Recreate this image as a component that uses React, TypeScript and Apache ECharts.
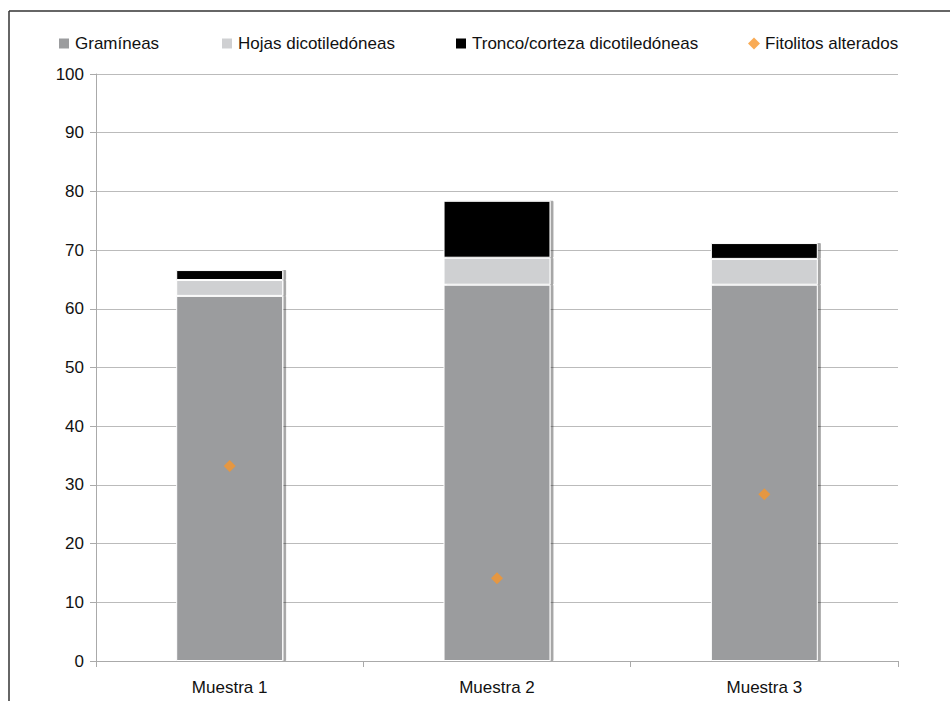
import React, { useEffect, useRef } from "react";
import * as echarts from "echarts";

const categories = ["Muestra 1", "Muestra 2", "Muestra 3"];
const gramineas = [62.2, 64.1, 64.1];
const hojas = [2.7, 4.6, 4.4];
const tronco = [1.7, 9.7, 2.7];
const fitolitos = [33.2, 14.1, 28.4];
const yTicks = { min: 0, max: 100, interval: 10 };

const FONT = "'Liberation Sans', Arial, sans-serif";

export default function App() {
  const ref = useRef<HTMLDivElement>(null);
  useEffect(() => {
    if (!ref.current) return;
    const chart = echarts.init(ref.current, undefined, { renderer: "svg" });
    const barStyle = (color: string) => ({
      color,
      borderColor: "#ffffff",
      borderWidth: 1,
      shadowColor: "rgba(0,0,0,0.35)",
      shadowOffsetX: 3,
      shadowOffsetY: 0,
      shadowBlur: 1,
    });
    const legendBase = {
      top: 30,
      itemWidth: 12,
      itemHeight: 12,
      itemGap: 5,
      textStyle: { fontFamily: FONT, fontSize: 17, color: "#111" },
    };
    chart.setOption({
      animation: false,
      backgroundColor: "#ffffff",
      textStyle: { fontFamily: FONT },
      grid: { left: 96, right: 52, top: 74, bottom: 40 },
      legend: [
        { ...legendBase, left: 52, data: [{ name: "Gramíneas", icon: "rect" }] },
        { ...legendBase, left: 215, data: [{ name: "Hojas dicotiledóneas", icon: "rect" }] },
        { ...legendBase, left: 449, data: [{ name: "Tronco/corteza dicotiledóneas", icon: "rect" }] },
        { ...legendBase, left: 743, data: [{ name: "Fitolitos alterados", icon: "diamond" }] },
      ],
      graphic: [
        { type: "line", shape: { x1: 9, y1: 11, x2: 950, y2: 11 }, style: { stroke: "#333", lineWidth: 1.5 } },
        { type: "line", shape: { x1: 9, y1: 11, x2: 9, y2: 701 }, style: { stroke: "#333", lineWidth: 1.5 } },
      ],
      xAxis: {
        type: "category",
        data: categories,
        axisLine: { lineStyle: { color: "#aaaaaa", width: 1 } },
        axisTick: { show: true, length: 6, lineStyle: { color: "#aaaaaa" } },
        axisLabel: { fontSize: 17, color: "#111", margin: 18, fontFamily: FONT },
      },
      yAxis: {
        type: "value",
        min: yTicks.min,
        max: yTicks.max,
        interval: yTicks.interval,
        axisLine: { show: true, lineStyle: { color: "#aaaaaa", width: 1 } },
        axisTick: { show: true, length: 6, lineStyle: { color: "#aaaaaa" } },
        axisLabel: { fontSize: 17, color: "#111", margin: 12, fontFamily: FONT },
        splitLine: { lineStyle: { color: "#bbbbbb", width: 1 } },
      },
      series: [
        { name: "Gramíneas", type: "bar", stack: "a", barWidth: "40%", data: gramineas, itemStyle: barStyle("#9b9c9e") },
        { name: "Hojas dicotiledóneas", type: "bar", stack: "a", barWidth: "40%", data: hojas, itemStyle: barStyle("#cfd0d2") },
        { name: "Tronco/corteza dicotiledóneas", type: "bar", stack: "a", barWidth: "40%", data: tronco, itemStyle: barStyle("#000000") },
        {
          name: "Fitolitos alterados",
          type: "scatter",
          symbol: "diamond",
          symbolSize: 12,
          data: fitolitos,
          itemStyle: { color: "#f7962a" },
          z: 5,
        },
      ],
    });
    return () => chart.dispose();
  }, []);
  return <div ref={ref} style={{ width: 950, height: 701, position: "absolute", left: 0, top: 0 }} />;
}
